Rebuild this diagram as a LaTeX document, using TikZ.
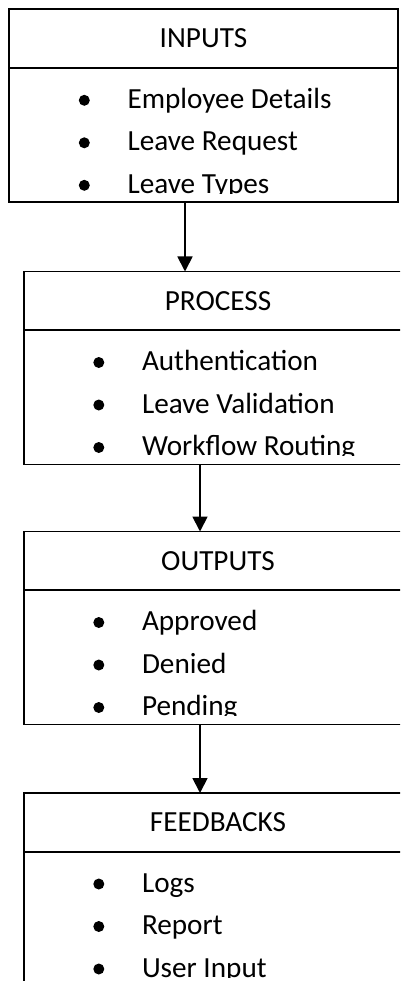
\documentclass[tikz,border=0pt]{standalone}
\usepackage{fontspec}
\setmainfont{Carlito}
\usetikzlibrary{arrows.meta}
\begin{document}
\begin{tikzpicture}[x=1pt,y=-1pt,
  boxst/.style={draw, line width=1.8pt, minimum width=388.4pt, minimum height=193pt, inner sep=0pt, outer sep=0pt},
  rulest/.style={line width=1.8pt},
  hdr/.style={font=\fontsize{29.2}{35}\selectfont, anchor=base, inner sep=0pt},
  item/.style={font=\fontsize{29.2}{35}\selectfont, anchor=base west, inner sep=0pt},
  arr/.style={line width=1.8pt, -{Triangle[width=15pt,length=15pt]}},
  bul/.style={fill=black}]
\useasboundingbox (0,0) rectangle (400,981);
\clip (0,0) rectangle (400,981);
\newcommand\iobox[6]{%
  \node[boxst] (#1) at (#2) {};
  \draw[rulest] ([yshift=-58.7pt]#1.north west) -- ([yshift=-58.7pt]#1.north east);
  \node[hdr] (#1h) at ([yshift=-38.7pt]#1.north) {#3};
  \fill[bul] ([xshift=75pt,yshift=-91pt]#1.north west) circle (5.5pt);
  \fill[bul] ([xshift=75pt,yshift=-133.5pt]#1.north west) circle (5.5pt);
  \fill[bul] ([xshift=75pt,yshift=-176pt]#1.north west) circle (5.5pt);
  \node[item] (#1a) at ([xshift=118pt,yshift=-99pt]#1.north west) {#4};
  \node[item] (#1b) at ([xshift=118pt,yshift=-141.5pt]#1.north west) {#5};
  \begin{scope}
    \clip (#1.north west) rectangle ([yshift=-184pt]#1.north east);
    \node[item] (#1c) at ([xshift=118pt,yshift=-184pt]#1.north west) {#6};
  \end{scope}
}
\iobox{in}{203.5,105.8}{INPUTS}{Employee Details}{Leave Request}{Leave Types}
\iobox{pr}{218,368}{PROCESS}{Authentication}{Leave Validation}{Workflow Routing}
\iobox{out}{218,628}{OUTPUTS}{Approved}{Denied}{Pending}
\iobox{fb}{218,889.5}{FEEDBACKS}{Logs}{Report}{User Input}
\coordinate (a1) at (185,0);
\coordinate (a2) at (200,0);
\draw[arr] (a1 |- in.south) -- (a1 |- pr.north);
\draw[arr] (a2 |- pr.south) -- (a2 |- out.north);
\draw[arr] (a2 |- out.south) -- (a2 |- fb.north);
\end{tikzpicture}
\end{document}
